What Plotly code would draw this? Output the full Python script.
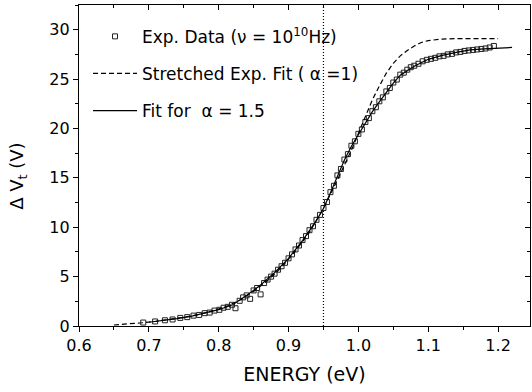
import plotly.graph_objects as go

# Experimental data (nu = 10^10 Hz)
exp_energy = [0.692, 0.709, 0.723, 0.734, 0.745, 0.755, 0.764, 0.772, 0.780, 0.787,
              0.794, 0.801, 0.807, 0.813, 0.819, 0.824, 0.830, 0.835, 0.840, 0.845,
              0.850, 0.855, 0.860, 0.865, 0.870, 0.875, 0.880, 0.885, 0.890, 0.895,
              0.900, 0.905, 0.910, 0.915, 0.920, 0.925, 0.930, 0.935, 0.940, 0.945,
              0.950, 0.955, 0.960, 0.965, 0.970, 0.975, 0.980, 0.985, 0.990, 0.995,
              1.000, 1.005, 1.010, 1.015, 1.020, 1.025, 1.030, 1.035, 1.040, 1.045,
              1.050, 1.055, 1.060, 1.065, 1.070, 1.075, 1.080, 1.086, 1.092, 1.098,
              1.104, 1.110, 1.116, 1.122, 1.128, 1.134, 1.140, 1.146, 1.152, 1.158,
              1.164, 1.170, 1.176, 1.182, 1.188, 1.194]
exp_dv = [0.35, 0.46, 0.58, 0.66, 0.82, 0.90, 1.05, 1.12, 1.30, 1.36,
          1.56, 1.64, 1.85, 1.94, 2.15, 1.80, 2.55, 2.90, 3.10, 2.75,
          3.60, 3.85, 3.20, 4.35, 4.70, 5.00, 5.30, 5.70, 6.05, 6.40,
          6.85, 7.25, 7.75, 8.15, 8.70, 9.10, 9.70, 10.10, 10.75, 11.25,
          11.95, 12.55, 13.55, 14.20, 15.25, 15.90, 16.85, 17.40, 18.25, 18.70,
          19.45, 19.90, 20.65, 21.05, 21.75, 22.15, 22.75, 23.15, 23.75, 24.10,
          24.65, 24.95, 25.45, 25.65, 25.95, 26.20, 26.35, 26.55, 26.80, 26.95,
          27.05, 27.15, 27.30, 27.35, 27.50, 27.55, 27.70, 27.75, 27.85, 27.90,
          27.95, 28.00, 28.05, 28.10, 28.20, 28.35]

# Stretched exponential fit (alpha = 1)
str_energy = [0.65, 0.67, 0.69, 0.71, 0.73, 0.75, 0.77, 0.79, 0.81, 0.83,
              0.85, 0.87, 0.89, 0.91, 0.93, 0.95, 0.97, 0.99, 1.00, 1.01,
              1.02, 1.03, 1.04, 1.05, 1.06, 1.07, 1.08, 1.09, 1.10, 1.12,
              1.14, 1.20]
str_dv = [0.10, 0.20, 0.33, 0.48, 0.66, 0.88, 1.15, 1.50, 1.95, 2.60,
          3.50, 4.60, 5.95, 7.60, 9.50, 11.90, 14.80, 17.80, 19.50, 21.30,
          22.90, 24.30, 25.60, 26.60, 27.35, 27.90, 28.35, 28.70, 28.90, 29.05,
          29.10, 29.10]

# Fit for alpha = 1.5
fit_energy = [0.70, 0.72, 0.74, 0.76, 0.78, 0.80, 0.82, 0.84, 0.86, 0.88,
              0.90, 0.92, 0.94, 0.95, 0.96, 0.97, 0.98, 0.99, 1.00, 1.01,
              1.02, 1.03, 1.04, 1.05, 1.06, 1.08, 1.10, 1.12, 1.14, 1.16,
              1.18, 1.20, 1.22]
fit_dv = [0.38, 0.55, 0.74, 0.98, 1.28, 1.65, 2.15, 3.10, 4.15, 5.40,
          6.85, 8.65, 10.70, 11.90, 13.50, 15.20, 16.80, 18.20, 19.40, 20.60,
          21.70, 22.70, 23.70, 24.60, 25.40, 26.30, 27.00, 27.40, 27.70, 27.95,
          28.05, 28.15, 28.20]

marker_energy = [0.95]

FONT = "DejaVu Sans, Liberation Sans, sans-serif"
X_RANGE = [0.6, 1.2457]
Y_RANGE = [0, 32.5]

fig = go.Figure()

fig.add_trace(go.Scatter(
    x=exp_energy, y=exp_dv, mode="markers", name="Exp. Data (\u03bd = 10<sup>10</sup>Hz)",
    marker=dict(symbol="square-open", size=5, color="#222222", line=dict(width=1)),
    legendgroup="a"))
fig.add_trace(go.Scatter(
    x=str_energy, y=str_dv, mode="lines", name="Stretched Exp. Fit ( \u03b1 =1)",
    line=dict(color="black", width=1.2, dash="5px,3px"), legendgroup="b"))
fig.add_trace(go.Scatter(
    x=fit_energy, y=fit_dv, mode="lines", name="Fit for  \u03b1 = 1.5",
    line=dict(color="black", width=1.2), legendgroup="c"))

# invisible trace to activate top/right mirrored axes
fig.add_trace(go.Scatter(
    x=fit_energy, y=fit_dv, mode="lines", xaxis="x2", yaxis="y2",
    line=dict(width=0, color="rgba(0,0,0,0)"), showlegend=False, hoverinfo="skip"))

for e in marker_energy:
    fig.add_shape(type="line", xref="x", yref="paper", x0=e, x1=e, y0=0, y1=1,
                  line=dict(color="black", width=1.2, dash="1px,2px"))

# y-axis title as rotated annotation (sits slightly below the plot centre)
fig.add_annotation(text="\u0394 V<sub>t</sub> (V)", textangle=-90, showarrow=False,
                   xref="paper", yref="paper", x=-0.135, y=0.465,
                   xanchor="center", yanchor="middle", font=dict(size=18))

axis_common = dict(showline=True, linecolor="black", linewidth=1.3, showgrid=False,
                   zeroline=False, tickcolor="black", tickwidth=1.2, automargin=False)

fig.update_layout(
    width=532, height=392,
    margin=dict(l=79, r=2, t=5, b=66),
    paper_bgcolor="white", plot_bgcolor="white",
    font=dict(family=FONT, size=16, color="black"),
    showlegend=True,
    legend=dict(x=0.02, y=0.957, xanchor="left", yanchor="top",
                bgcolor="rgba(0,0,0,0)", font=dict(size=17, family=FONT),
                itemwidth=44, traceorder="grouped", tracegroupgap=12),
    xaxis=dict(range=X_RANGE, dtick=0.1, tick0=0.6, ticks="outside", ticklen=5,
               tickformat=".1f", tickfont=dict(size=16),
               minor=dict(dtick=0.05, tick0=0.6, ticks="outside", ticklen=3,
                          tickcolor="black", tickwidth=1),
               title=dict(text="ENERGY (eV)", font=dict(size=19), standoff=13),
               **axis_common),
    yaxis=dict(range=Y_RANGE, dtick=5, tick0=0, ticks="outside", ticklen=5,
               tickfont=dict(size=16),
               minor=dict(dtick=2.5, tick0=0, ticks="outside", ticklen=3,
                          tickcolor="black", tickwidth=1),
               **axis_common),
    xaxis2=dict(range=X_RANGE, overlaying="x", side="top", dtick=0.1, tick0=0.6,
                ticks="inside", ticklen=5, showticklabels=False,
                minor=dict(dtick=0.05, tick0=0.6, ticks="inside", ticklen=3,
                           tickcolor="black", tickwidth=1),
                **axis_common),
    yaxis2=dict(range=Y_RANGE, overlaying="y", side="right", dtick=5, tick0=0,
                ticks="inside", ticklen=5, showticklabels=False,
                minor=dict(dtick=2.5, tick0=0, ticks="inside", ticklen=3,
                           tickcolor="black", tickwidth=1),
                **axis_common),
)

fig.write_html("out.html", config={"displayModeBar": False},
               post_script="document.body.style.margin='0';document.body.style.overflow='hidden';")
